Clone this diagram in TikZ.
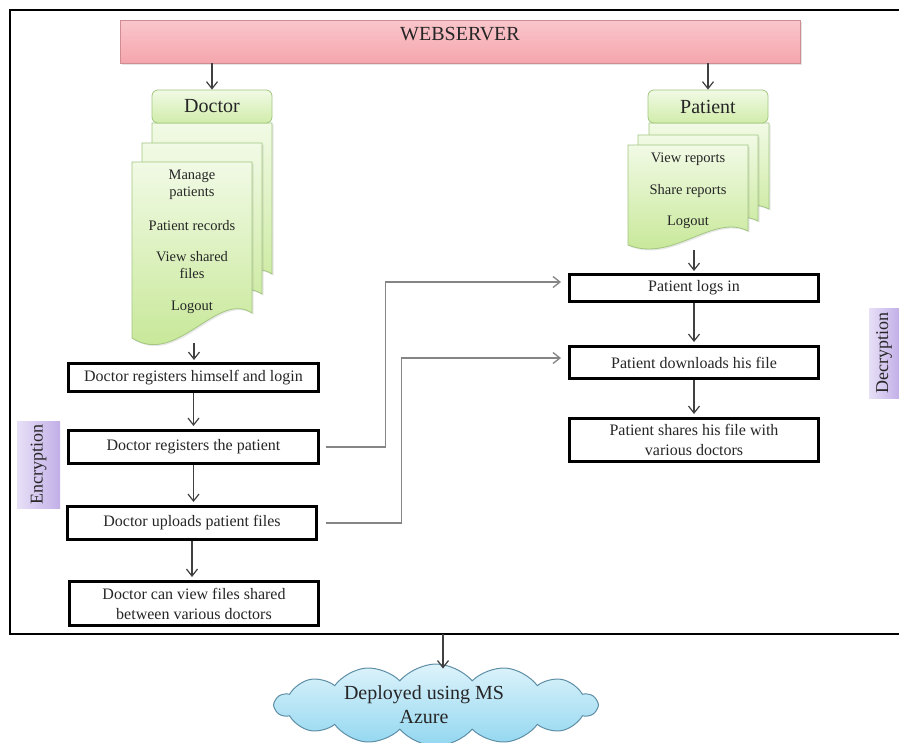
\documentclass[tikz,border=0pt]{standalone}
\usepackage{fontspec}
\setmainfont{Liberation Serif}
\usetikzlibrary{arrows.meta,shapes.symbols,shadows}

\definecolor{ink}{HTML}{262626}
\definecolor{arrowgray}{HTML}{404040}
\definecolor{conngray}{HTML}{858585}
\definecolor{pinktop}{HTML}{F9C6CB}
\definecolor{pinkmid}{HTML}{FDE6E8}
\definecolor{pinkbot}{HTML}{F5A6AD}
\definecolor{pinkedge}{HTML}{CF8C93}
\definecolor{greentop}{HTML}{F1FAE5}
\definecolor{greenbot}{HTML}{C3E690}
\definecolor{greenedge}{HTML}{A2C680}
\definecolor{lavleft}{HTML}{E7E0F7}
\definecolor{lavmid}{HTML}{DBD0F2}
\definecolor{lavright}{HTML}{C2AFE7}
\definecolor{skytop}{HTML}{DDF3FB}
\definecolor{skybot}{HTML}{92D7F0}
\definecolor{skyedge}{HTML}{5E8FA6}

% one sheet of a document stack, top-left corner given
\newcommand\doctorsheet[2]{%
  \path[sheet, shift={(#1,#2)}] (0,0) -- (120,0) -- (120,151)
    .. controls (85,128) and (45,205) .. (0,176) -- cycle;}
\newcommand\patientsheet[2]{%
  \path[sheet, shift={(#1,#2)}] (0,0) -- (120,0) -- (120,86)
    .. controls (85,68) and (45,118) .. (0,100) -- cycle;}

\begin{document}
\begin{tikzpicture}[x=1pt,y=-1pt,
  arr/.style={draw=arrowgray, line width=1.2pt,
    -{Straight Barb[length=7pt,width=11pt]}},
  conn/.style={draw=conngray, line width=1.3pt,
    -{Straight Barb[length=7pt,width=11pt]}},
  stepbox/.style={draw=black, line width=3pt, fill=white,
    minimum width=249pt, text=ink, align=center, inner sep=0pt,
    font=\fontsize{16}{20}\selectfont},
  sheet/.style={draw=greenedge, line width=0.8pt,
    top color=greentop, bottom color=greenbot,
    drop shadow={opacity=0.18, shadow xshift=1.5pt, shadow yshift=-1.5pt}},
  headbox/.style={draw=greenedge, line width=0.8pt, rounded corners=6pt,
    top color=greentop, bottom color=greenbot!70!greentop,
    minimum width=120pt, minimum height=33pt, text=ink,
    font=\fontsize{20}{24}\selectfont},
  item/.style={text=ink, align=center, inner sep=0pt,
    font=\fontsize{14.5}{16.5}\selectfont},
  tagbox/.style={shading=axis, left color=lavleft, middle color=lavmid,
    right color=lavright, shading angle=90, text=ink, rotate=90,
    inner sep=0pt, font=\fontsize{18}{20}\selectfont},
]
\useasboundingbox (0,0) rectangle (899,742);
\clip (0,0) rectangle (899,742);
\fill[white] (0,0) rectangle (899,742);

% outer frame, open on the right
\draw[line width=2.5pt] (910,10) -- (10,10) -- (10,634) -- (910,634);

% web server bar
\node[draw=pinkedge, line width=0.8pt, minimum width=680pt, minimum height=43pt,
  shading=axis, top color=pinktop, middle color=pinkmid, bottom color=pinkbot,
  drop shadow={opacity=0.2, shadow xshift=2pt, shadow yshift=-2pt}]
  (web) at (460,41.5) {};
\node[text=ink, font=\fontsize{20}{24}\selectfont] (webtitle) at (460,34) {WEBSERVER};

% doctor menu stack
\doctorsheet{152}{123}
\doctorsheet{142}{143}
\doctorsheet{132}{162}
\node[headbox] (dochead) at (212,106.5) {Doctor};
\node[item] (dmanage) at (192,185) {Manage\\patients};
\node[item] (drecords) at (192,226) {Patient records};
\node[item] (dview) at (192,265) {View shared\\files};
\node[item] (dlogout) at (192,307) {Logout};
\coordinate (docbottom) at (194,343);

% patient menu stack
\patientsheet{649}{123}
\patientsheet{638}{135}
\patientsheet{628}{145}
\node[headbox] (pathead) at (708,106.5) {Patient};
\node[item] (pview) at (688,159) {View reports};
\node[item] (pshare) at (688,191) {Share reports};
\node[item] (plogout) at (688,222) {Logout};
\coordinate (patbottom) at (694,250);

% doctor steps
\node[stepbox, minimum width=250pt, minimum height=28pt] (d1) at (193.5,377.5)
  {Doctor registers himself and login};
\node[stepbox, minimum width=250pt, minimum height=33pt] (d2) at (193.5,447)
  {Doctor registers the patient};
\node[stepbox, minimum height=33pt] (d3) at (192,523)
  {Doctor uploads patient files};
\node[stepbox, minimum height=44pt] (d4) at (194,603.5)
  {Doctor can view files shared\\between various doctors};

% patient steps
\node[stepbox, minimum height=27pt] (p1) at (694,288) {Patient logs in};
\node[stepbox, minimum height=32pt] (p2) at (694,362.5) {Patient downloads his file};
\node[stepbox, minimum height=43pt] (p3) at (694,440)
  {Patient shares his file with\\various doctors};

% side tags
\node[tagbox, minimum width=87pt, minimum height=43pt] (enc) at (38.5,464.5) {Encryption};
\node[tagbox, minimum width=90pt, minimum height=30pt] (dec) at (884,353) {Decryption};

% cloud
\node[cloud, cloud puffs=14, cloud puff arc=100, aspect=4,
  minimum width=322pt, minimum height=82pt, draw=skyedge, line width=1pt,
  top color=skytop, bottom color=skybot] (cloud) at (436,705) {};
\node[text=ink, align=center, font=\fontsize{20}{24}\selectfont] (cloudtext)
  at (424,705) {Deployed using MS\\Azure};
\coordinate (framebottom) at (443,634);

% arrows
\draw[arr] (web.south -| dochead) -- (dochead.north);
\draw[arr] (web.south -| pathead) -- (pathead.north);
\draw[arr] (docbottom) -- ([yshift=2pt]docbottom |- d1.north);
\draw[arr] (patbottom) -- ([yshift=2pt]patbottom |- p1.north);
\draw[arr, shorten >=3pt] (d1.south) -- (d1.south |- d2.north);
\draw[arr, shorten >=3pt] (d2.south) -- (d2.south |- d3.north);
\draw[arr, shorten >=3pt] (d3.south) -- (d3.south |- d4.north);
\draw[arr, shorten >=3pt] (p1.south) -- (p1.south |- p2.north);
\draw[arr, shorten >=3pt] (p2.south) -- (p2.south |- p3.north);
\draw[arr] (framebottom) -- ([yshift=-5pt]framebottom |- cloud.north);

% cross connectors
\draw[conn] ([xshift=5.5pt]d2.east) -- ++(60,0) |- ([xshift=-7pt,yshift=6pt]p1.west);
\draw[conn] ([xshift=7.5pt]d3.east) -- ++(76,0) |- ([xshift=-7pt,yshift=4.5pt]p2.west);
\end{tikzpicture}
\end{document}
